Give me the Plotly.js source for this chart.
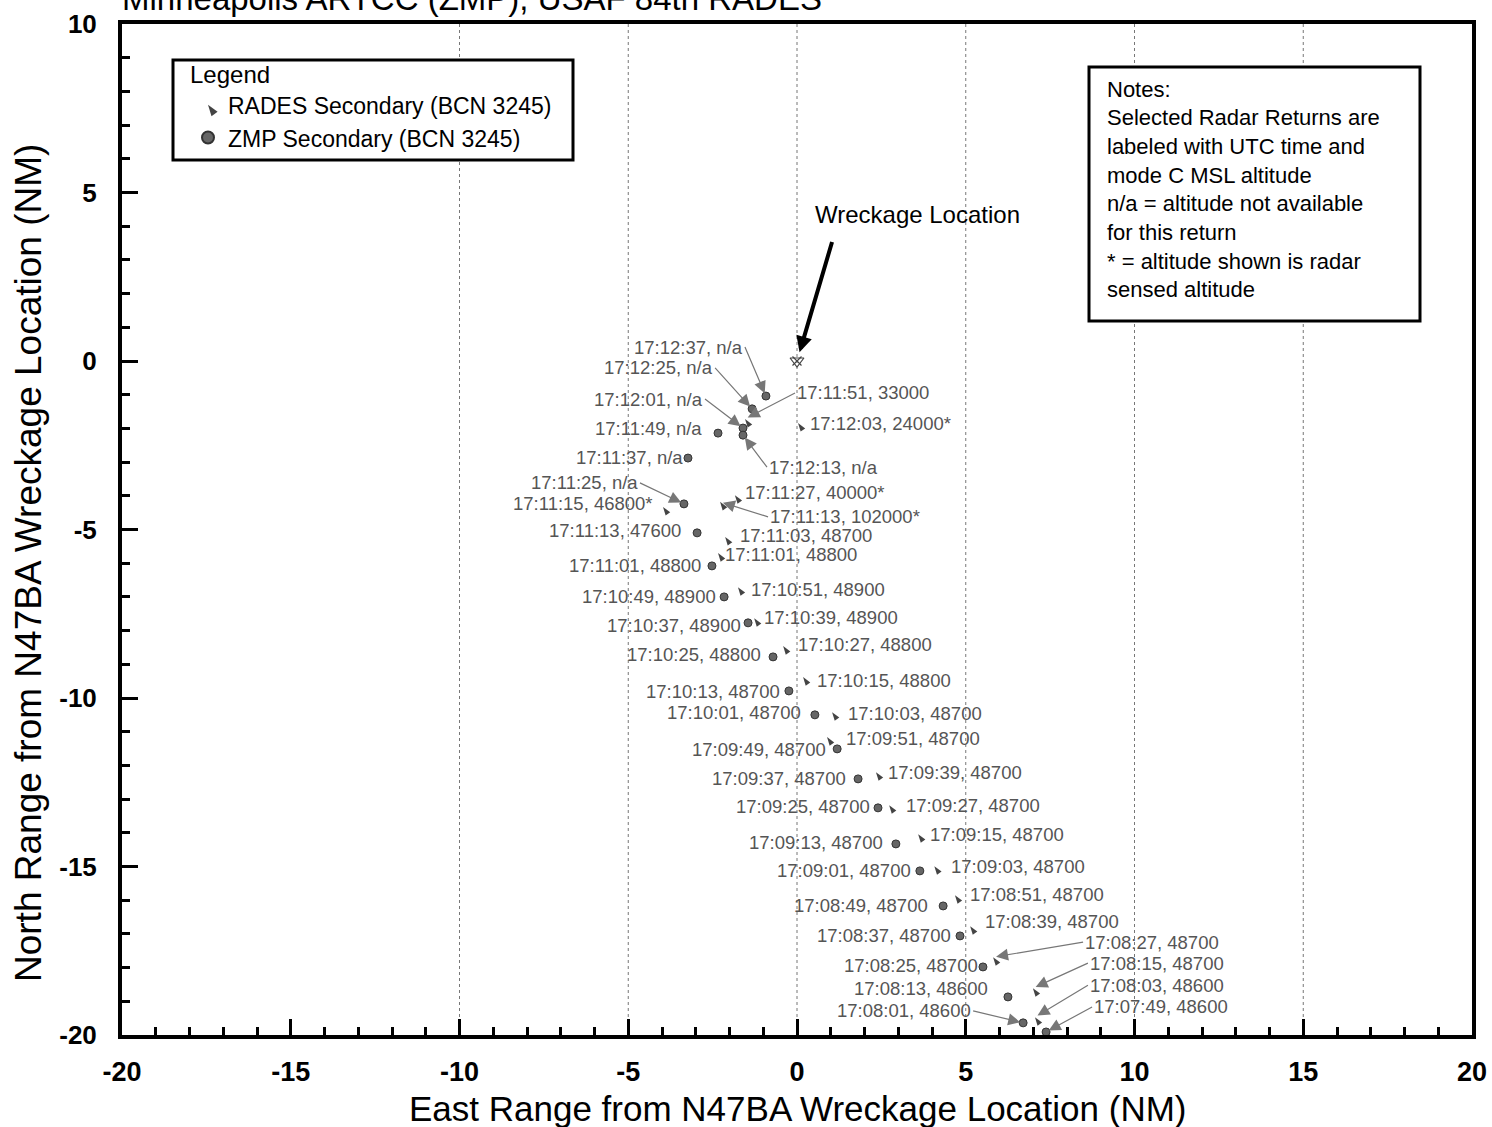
<!DOCTYPE html>
<html><head><meta charset="utf-8">
<script src="https://cdn.plot.ly/plotly-3.0.1.min.js"></script>
<style>html,body{margin:0;padding:0;background:#fff;}</style>
</head><body><div id="chart" style="width:1492px;height:1127px;"></div>
<script>
// ---------- DATA ----------
const radesTime  = ["17:08:03","17:08:15","17:08:27","17:08:39","17:08:51","17:09:03","17:09:15","17:09:27","17:09:39","17:09:51","17:10:03","17:10:15","17:10:27","17:10:39","17:10:51","17:11:01","17:11:03","17:11:13","17:11:15","17:11:27","17:11:51","17:12:03"];
const radesAlt   = ["48600","48700","48700","48700","48700","48700","48700","48700","48700","48700","48700","48800","48800","48900","48900","48800","48700","102000*","46800*","40000*","33000","24000*"];
const radesEast  = [7.05,6.99,5.81,5.13,4.68,4.07,3.59,2.73,2.34,0.89,1.04,0.18,-0.41,-1.27,-1.75,-2.34,-2.13,-2.28,-3.97,-1.84,-1.54,0.03];
const radesNorth = [-19.47,-18.61,-17.69,-16.77,-15.85,-14.99,-14.04,-13.18,-12.20,-11.16,-10.42,-9.38,-8.46,-7.63,-6.71,-5.70,-5.22,-4.18,-4.33,-3.98,-1.72,-1.84];

const zmpTime  = ["17:07:49","17:08:01","17:08:13","17:08:25","17:08:37","17:08:49","17:09:01","17:09:13","17:09:25","17:09:37","17:09:49","17:10:01","17:10:13","17:10:25","17:10:37","17:10:49","17:11:01","17:11:13","17:11:25","17:11:37","17:11:49","17:12:01","17:12:13","17:12:25","17:12:37"];
const zmpAlt   = ["48600","48600","48600","48700","48700","48700","48700","48700","48700","48700","48700","48700","48700","48800","48900","48900","48800","47600","n/a","n/a","n/a","n/a","n/a","n/a","n/a"];
const zmpEast  = [7.38,6.70,6.25,5.51,4.83,4.33,3.64,2.93,2.40,1.81,1.19,0.53,-0.24,-0.71,-1.45,-2.16,-2.52,-2.96,-3.35,-3.23,-2.34,-1.60,-1.60,-1.33,-0.92];
const zmpNorth = [-19.91,-19.64,-18.87,-17.98,-17.06,-16.17,-15.13,-14.33,-13.26,-12.40,-11.51,-10.50,-9.79,-8.78,-7.77,-7.00,-6.08,-5.10,-4.24,-2.88,-2.14,-1.99,-2.20,-1.42,-1.04];

const wreckEast = [0];
const wreckNorth = [0];

const xTickVals = [-20,-15,-10,-5,0,5,10,15,20];
const xTickText = ["-20","-15","-10","-5","0","5","10","15","20"];
const yTickVals = [-20,-15,-10,-5,0,5,10];
const yTickText = ["-20","-15","-10","-5","0","5","10"];

const seriesNames = ["RADES Secondary (BCN 3245)", "ZMP Secondary (BCN 3245)"];
const legendTitle = "Legend";
const titleText = "Minneapolis ARTCC (ZMP), USAF 84th RADES";
const xTitle = "East Range from N47BA Wreckage Location (NM)";
const yTitle = "North Range from N47BA Wreckage Location (NM)";
const wreckText = "Wreckage Location";
const notesLines = ["Notes:","Selected Radar Returns are","labeled with UTC time and","mode C MSL altitude","n/a = altitude not available","for this return","* = altitude shown is radar","sensed altitude"];
const gridX = [-10,-5,0,5,10,15];

// ---------- LABEL PLACEMENT (pixels) ----------
const radesPlace = [["AR",53,-32],["AR",55,-25],["AR",90,-15],["R",13,-5],["R",13,-1],["R",15,0],["R",10,0],["R",15,0],["R",10,0],["R",17,1],["R",14,1],["R",12,3],["R",13,-2],["R",8,-1],["R",11,2],["R",5,1],["R",13,-1],["AR",48,15],["L",-8,-3],["R",8,-3],["AR",50,-26],["R",10,0]];
const zmpPlace = [["AR",46,-25],["AL",-50,-12],["L",-18,-8],["L",-3,-1],["L",-7,0],["L",-13,0],["L",-7,0],["L",-11,-1],["L",-6,-1],["L",-10,0],["L",-9,1],["L",-12,-2],["L",-7,1],["L",-10,-2],["L",-5,3],["L",-6,0],["L",-9,0],["L",-14,-2],["AL",-44,-21],["L",-3,-1],["L",-14,-5],["AL",-38,-29],["AR",24,32],["AL",-37,-41],["AL",-21,-49]];

// ---------- LAYOUT HELPERS ----------
const W = 1492, H = 1127, ML = 122, MR = 20, MT = 24, MB = 92;
const PW = W - ML - MR, PH = H - MT - MB;
const px = v => (v - ML) / PW;
const py = v => (H - MB - v) / PH;
const FONT = "Liberation Sans, Arial, sans-serif";
const labelFont = {family: FONT, size: 18.5, color: "#555"};

function labelAnn(x, y, text, p) {
  const mode = p[0], dx = p[1], dy = p[2];
  const base = {x: x, y: y, xref: "x", yref: "y", text: text, font: labelFont, yanchor: "middle"};
  if (mode === "R" || mode === "L") {
    return Object.assign(base, {showarrow: false, xanchor: mode === "R" ? "left" : "right", xshift: dx, yshift: -dy});
  }
  return Object.assign(base, {showarrow: true, xanchor: mode === "AR" ? "left" : "right", ax: dx, ay: dy,
    arrowhead: 2, arrowsize: 2, arrowwidth: 1.2, arrowcolor: "#777", standoff: 3});
}

const annotations = [];
radesTime.forEach((t, i) => annotations.push(labelAnn(radesEast[i], radesNorth[i], t + ", " + radesAlt[i], radesPlace[i])));
zmpTime.forEach((t, i) => annotations.push(labelAnn(zmpEast[i], zmpNorth[i], t + ", " + zmpAlt[i], zmpPlace[i])));

// wreckage text and arrow
annotations.push({x: wreckEast[0], y: wreckNorth[0], xref: "x", yref: "y", text: wreckText, showarrow: false,
  xanchor: "center", yanchor: "middle", xshift: 120, yshift: 147, font: {family: FONT, size: 24, color: "#000"}});
annotations.push({x: wreckEast[0], y: wreckNorth[0], xref: "x", yref: "y", text: " ", showarrow: true,
  ax: 38, ay: -129, arrowhead: 2, arrowsize: 0.8, arrowwidth: 4, arrowcolor: "#000", standoff: 9});

// notes text
notesLines.forEach((s, i) => annotations.push({xref: "paper", yref: "paper", x: px(1105), y: py(89 + i * 28.7),
  xanchor: "left", yanchor: "middle", text: s, showarrow: false, font: {family: FONT, size: 22, color: "#000"}}));

// titles
annotations.push({xref: "paper", yref: "paper", x: px(120), y: 1, xanchor: "left", yanchor: "bottom", yshift: 5,
  text: titleText, showarrow: false, font: {family: FONT, size: 33, color: "#000"}});
annotations.push({xref: "paper", yref: "paper", x: 0.5, y: py(1108), xanchor: "center", yanchor: "middle",
  text: xTitle, showarrow: false, font: {family: FONT, size: 35, color: "#000"}});
annotations.push({xref: "paper", yref: "paper", x: px(28), y: py(563), xanchor: "center", yanchor: "middle", textangle: -90,
  text: yTitle, showarrow: false, font: {family: FONT, size: 37, color: "#000"}});

const shapes = gridX.map(g => ({type: "line", xref: "x", yref: "paper", x0: g, x1: g, y0: 0, y1: 1,
  line: {color: "#777", width: 1, dash: "dot"}, layer: "below"}));
shapes.push({type: "rect", xref: "paper", yref: "paper", x0: px(173), x1: px(573), y0: py(160), y1: py(60),
  line: {color: "#000", width: 3}, fillcolor: "#fff", layer: "above"});
shapes.push({type: "rect", xref: "paper", yref: "paper", x0: px(1089), x1: px(1420), y0: py(321), y1: py(67),
  line: {color: "#000", width: 3}, fillcolor: "#fff", layer: "above"});

const traces = [
  {type: "scatter", mode: "markers", name: seriesNames[0], x: radesEast, y: radesNorth,
   marker: {symbol: "arrow", size: 9, angle: -35, color: "#444"}},
  {type: "scatter", mode: "markers", name: seriesNames[1], x: zmpEast, y: zmpNorth,
   marker: {symbol: "circle", size: 8, color: "#666", line: {color: "#333", width: 1}}},
  {type: "scatter", mode: "markers", x: wreckEast, y: wreckNorth, showlegend: false, hoverinfo: "skip",
   marker: {symbol: "triangle-down-open", size: 12, color: "#444", line: {width: 1.2}}},
  {type: "scatter", mode: "markers", x: wreckEast, y: wreckNorth, showlegend: false, hoverinfo: "skip",
   marker: {symbol: "x-thin-open", size: 9, color: "#444", line: {width: 1.2}}}
];

const axisCommon = {
  showgrid: false, zeroline: false, showline: true, linecolor: "#000", linewidth: 4, mirror: true,
  ticks: "inside", ticklen: 16, tickwidth: 3, tickcolor: "#000", tickmode: "array",
  minor: {tickmode: "linear", tick0: -20, dtick: 1, ticks: "inside", ticklen: 8, tickwidth: 3, tickcolor: "#000"}
};

const layout = {
  width: W, height: H, margin: {l: ML, r: MR, t: MT, b: MB},
  paper_bgcolor: "#fff", plot_bgcolor: "#fff",
  xaxis: Object.assign({}, axisCommon, {range: [-20, 20], tickvals: xTickVals, ticktext: xTickText, ticklabelstandoff: 10,
    tickfont: {family: FONT, size: 27, color: "#000", weight: "bold"}}),
  yaxis: Object.assign({}, axisCommon, {range: [-20, 10], tickvals: yTickVals, ticktext: yTickText, ticklabelstandoff: 16,
    tickfont: {family: FONT, size: 26, color: "#000", weight: "bold"}}),
  showlegend: true,
  legend: {x: px(188), y: py(52), xanchor: "left", yanchor: "top", bgcolor: "rgba(0,0,0,0)", borderwidth: 0,
    font: {family: FONT, size: 23, color: "#000"}, title: {text: legendTitle, font: {family: FONT, size: 24, color: "#000"}},
    itemsizing: "constant", tracegroupgap: 0},
  annotations: annotations, shapes: shapes
};

Plotly.newPlot("chart", traces, layout, {displayModeBar: false, staticPlot: true});
</script></body></html>
